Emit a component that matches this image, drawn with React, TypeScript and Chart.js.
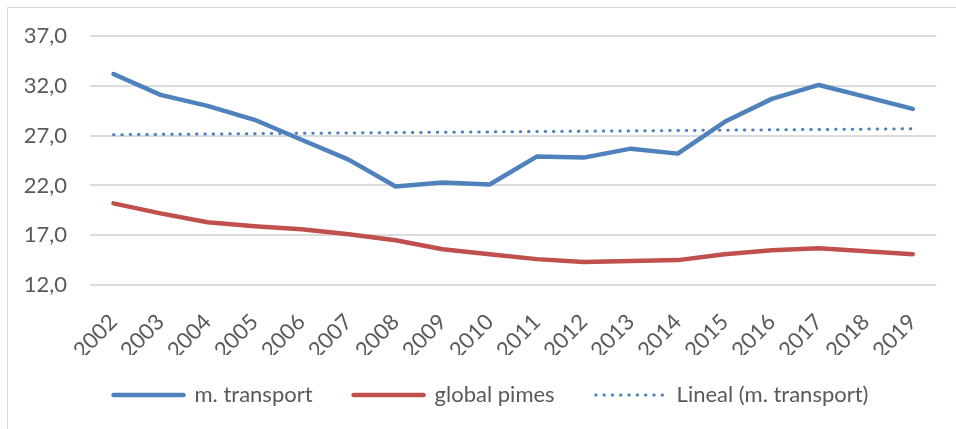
import React, { useEffect, useRef } from "react";
import { Chart, registerables } from "chart.js";

Chart.register(...registerables);

const years = ["2002", "2003", "2004", "2005", "2006", "2007", "2008", "2009", "2010", "2011", "2012", "2013", "2014", "2015", "2016", "2017", "2018", "2019"];
const transport = [33.2, 31.1, 30.0, 28.6, 26.6, 24.6, 21.9, 22.3, 22.1, 24.9, 24.8, 25.7, 25.2, 28.4, 30.7, 32.1, 30.9, 29.7];
const pimes = [20.2, 19.2, 18.3, 17.9, 17.6, 17.1, 16.5, 15.6, 15.1, 14.6, 14.3, 14.4, 14.5, 15.1, 15.5, 15.7, 15.4, 15.1];
const trendStart = 27.1;
const trendEnd = 27.7;
const yMin = 12;
const yMax = 37;
const yStep = 5;

const FONT = 'Lato, "Open Sans", sans-serif';
const TEXT = "#595959";

const legendShift = {
  id: "legendShift",
  afterLayout(chart: any) {
    const lg = chart.legend;
    if (!lg) return;
    lg.left += 20;
    lg.top -= 12;
    lg.bottom -= 12;
  },
};

export default function App() {
  const ref = useRef<HTMLCanvasElement>(null);

  useEffect(() => {
    const canvas = ref.current;
    if (!canvas) return;
    const trend = years.map((_, i) => (i === 0 ? trendStart : i === years.length - 1 ? trendEnd : null));
    const chart = new Chart(canvas, {
      type: "line",
      data: {
        labels: years,
        datasets: [
          {
            label: "m. transport",
            data: transport,
            borderColor: "#4F81BD",
            backgroundColor: "#4F81BD",
            borderWidth: 4.5,
            borderCapStyle: "round",
            borderJoinStyle: "round",
            pointRadius: 0,
            tension: 0,
          },
          {
            label: "global pimes",
            data: pimes,
            borderColor: "#C0504D",
            backgroundColor: "#C0504D",
            borderWidth: 4.5,
            borderCapStyle: "round",
            borderJoinStyle: "round",
            pointRadius: 0,
            tension: 0,
          },
          {
            label: "Lineal (m. transport)",
            data: trend,
            spanGaps: true,
            borderColor: "#4F81BD",
            backgroundColor: "#4F81BD",
            borderWidth: 3,
            borderDash: [0.5, 7.8],
            borderCapStyle: "round",
            pointRadius: 0,
            tension: 0,
          },
        ],
      },
      plugins: [legendShift],
      options: {
        responsive: false,
        animation: false,
        devicePixelRatio: 1,
        layout: { padding: { left: 24, right: 18, top: 36, bottom: 1 } },
        plugins: {
          tooltip: { enabled: false },
          legend: {
            position: "bottom",
            labels: {
              usePointStyle: true,
              pointStyle: "line",
              pointStyleWidth: 70,
              padding: 41,
              color: TEXT,
              font: { family: FONT, size: 22 },
              generateLabels: (c: any) => {
                const items = Chart.defaults.plugins.legend.labels.generateLabels(c);
                items.forEach((it: any) => {
                  const ds: any = c.data.datasets[it.datasetIndex];
                  it.lineDash = ds.borderDash || [];
                  it.lineCap = ds.borderCapStyle;
                  it.lineWidth = ds.borderWidth;
                  it.strokeStyle = ds.borderColor;
                });
                return items;
              },
            },
          },
        },
        scales: {
          x: {
            offset: true,
            grid: { display: false, drawTicks: false },
            border: { display: false },
            ticks: {
              autoSkip: false,
              minRotation: 45,
              maxRotation: 45,
              padding: 24,
              color: TEXT,
              font: { family: FONT, size: 22 },
            },
            afterFit: (s: any) => {
              s.height = 70;
            },
          },
          y: {
            min: yMin,
            max: yMax,
            border: { display: false },
            grid: { color: "#dcdcdc", lineWidth: 2, drawTicks: false },
            ticks: {
              stepSize: yStep,
              padding: 23,
              color: TEXT,
              font: { family: FONT, size: 22 },
              callback: (v: any) => Number(v).toFixed(1).replace(".", ","),
            },
            afterFit: (s: any) => {
              s.width = 66;
            },
          },
        },
      },
    });
    return () => chart.destroy();
  }, []);

  return (
    <>
      <div
        style={{
          position: "fixed",
          left: 7,
          top: 7,
          width: 949,
          height: 422,
          boxSizing: "border-box",
          borderTop: "1px solid #d9d9d9",
          borderLeft: "1px solid #d9d9d9",
          background: "#fff",
        }}
      />
      <canvas
        ref={ref}
        width={956}
        height={429}
        style={{ position: "fixed", left: 0, top: 0, width: 956, height: 429 }}
      />
    </>
  );
}
